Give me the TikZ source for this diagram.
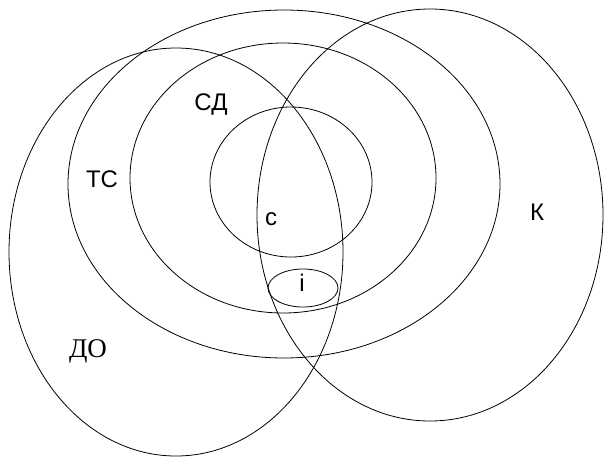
\documentclass[tikz,border=0pt]{standalone}
\usepackage{fontspec}
\newfontfamily\lblsans{Liberation Sans}
\newfontfamily\lblserif{Liberation Serif}
\tikzset{
  ring/.style={draw=black,line width=0.8pt},
  lbl/.style={inner sep=0pt,font=\lblsans\fontsize{24}{24}\selectfont},
  lblserif/.style={inner sep=0pt,font=\lblserif\fontsize{27}{27}\selectfont},
}

\begin{document}
\begin{tikzpicture}[x=1pt,y=-1pt]
\useasboundingbox (0,0) rectangle (604,459);

%% ellipses
\draw[ring] (176,252) ellipse [x radius=167pt, y radius=204pt];
\draw[ring] (430,215) ellipse [x radius=173pt, y radius=206pt];
\draw[ring] (284,184) ellipse [x radius=216pt, y radius=174pt];
\draw[ring] (283,178) ellipse [x radius=153pt, y radius=135pt];
\draw[ring] (291,182) ellipse [x radius=81pt, y radius=75pt];
\draw[ring] (303,288) ellipse [x radius=35pt, y radius=19pt];

%% labels
\node[lblserif] (do) at (88,351) {ДО};
\node[lbl] (ts) at (102,179) {ТС};
\node[lbl] (sd) at (211,105) {СД};
\node[lbl] (c) at (271,219) {с};
\node[lbl] (i) at (302,283) {i};
\node[lbl] (k) at (537,212) {К};
\end{tikzpicture}
\end{document}
